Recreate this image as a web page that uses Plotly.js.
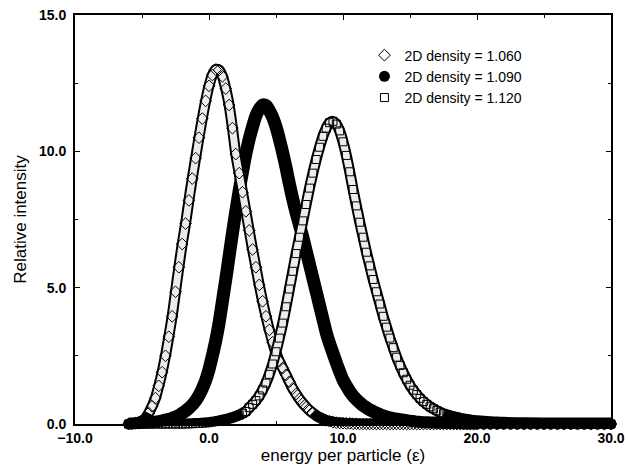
<!DOCTYPE html>
<html>
<head>
<meta charset="utf-8">
<script src="https://cdn.plot.ly/plotly-3.0.1.min.js"></script>
<style>html,body{margin:0;padding:0;background:#fff}#chart{width:628px;height:465px}</style>
</head>
<body>
<div id="chart"></div>
<script>
// energy per particle (x), one row per unit (x, x+.25, x+.5, x+.75)
const energy = [
  -6, -5.75, -5.5, -5.25,
  -5, -4.75, -4.5, -4.25,
  -4, -3.75, -3.5, -3.25,
  -3, -2.75, -2.5, -2.25,
  -2, -1.75, -1.5, -1.25,
  -1, -0.75, -0.5, -0.25,
  0, 0.25, 0.5, 0.75,
  1, 1.25, 1.5, 1.75,
  2, 2.25, 2.5, 2.75,
  3, 3.25, 3.5, 3.75,
  4, 4.25, 4.5, 4.75,
  5, 5.25, 5.5, 5.75,
  6, 6.25, 6.5, 6.75,
  7, 7.25, 7.5, 7.75,
  8, 8.25, 8.5, 8.75,
  9, 9.25, 9.5, 9.75,
  10, 10.25, 10.5, 10.75,
  11, 11.25, 11.5, 11.75,
  12, 12.25, 12.5, 12.75,
  13, 13.25, 13.5, 13.75,
  14, 14.25, 14.5, 14.75,
  15, 15.25, 15.5, 15.75,
  16, 16.25, 16.5, 16.75,
  17, 17.25, 17.5, 17.75,
  18, 18.25, 18.5, 18.75,
  19, 19.25, 19.5, 19.75,
  20,
  20.5, 21, 21.5, 22, 22.5, 23, 23.5, 24, 24.5, 25,
  25.5, 26, 26.5, 27, 27.5, 28, 28.5, 29, 29.5, 30
];

// 2D density = 1.060 (open diamonds)
const density1060 = [
  0, 0.01, 0.03, 0.06,
  0.12, 0.2, 0.4, 0.65,
  0.95, 1.4, 1.9, 2.5,
  3.2, 3.95, 4.85, 5.75,
  6.6, 7.35, 8.2, 9.0,
  9.75, 10.5, 11.2, 11.85,
  12.4, 12.8, 13.0, 12.98,
  12.75, 12.3, 11.7, 10.85,
  9.9, 9.2, 8.5, 7.8,
  7.1, 6.4, 5.75, 5.1,
  4.5, 3.95, 3.45, 3.0,
  2.6, 2.3, 2.05, 1.8,
  1.55, 1.3, 1.1, 0.92,
  0.76, 0.62, 0.5, 0.4,
  0.31, 0.24, 0.18, 0.13,
  0.1, 0.07, 0.05, 0.04,
  0.03, 0.02, 0.02, 0.01,
  0.01, 0, 0, 0,
  0, 0, 0, 0,
  0, 0, 0, 0,
  0, 0, 0, 0,
  0, 0, 0, 0,
  0, 0, 0, 0,
  0, 0, 0, 0,
  0, 0, 0, 0,
  0, 0, 0, 0,
  0,
  0, 0, 0, 0, 0, 0, 0, 0, 0, 0,
  0, 0, 0, 0, 0, 0, 0, 0, 0, 0
];

// 2D density = 1.090 (filled circles)
const density1090 = [
  0, 0, 0.01, 0.01,
  0.02, 0.03, 0.04, 0.05,
  0.07, 0.09, 0.11, 0.14,
  0.17, 0.21, 0.26, 0.31,
  0.4, 0.48, 0.58, 0.7,
  0.85, 1.05, 1.3, 1.6,
  2.0, 2.5, 3.05, 3.7,
  4.5, 5.3, 6.15, 7.0,
  7.8, 8.55, 9.25, 9.9,
  10.45, 10.9, 11.3, 11.55,
  11.7, 11.68, 11.5, 11.25,
  10.9, 10.45, 9.95, 9.4,
  8.8, 8.25, 7.75, 7.3,
  6.85, 6.35, 5.85, 5.35,
  4.85, 4.35, 3.85, 3.35,
  2.95, 2.6, 2.25, 1.92,
  1.62, 1.4, 1.2, 1.03,
  0.9, 0.78, 0.68, 0.6,
  0.52, 0.46, 0.4, 0.35,
  0.3, 0.26, 0.23, 0.2,
  0.18, 0.16, 0.14, 0.12,
  0.1, 0.09, 0.07, 0.06,
  0.05, 0.045, 0.04, 0.035,
  0.03, 0.025, 0.02, 0.02,
  0.015, 0.01, 0.01, 0.01,
  0, 0, 0, 0,
  0,
  0, 0, 0, 0, 0, 0, 0, 0, 0, 0,
  0, 0, 0, 0, 0, 0, 0, 0, 0, 0
];

// 2D density = 1.120 (open squares)
const density1120 = [
  0, 0, 0, 0,
  0, 0, 0, 0,
  0, 0, 0, 0,
  0, 0, 0, 0,
  0, 0, 0.01, 0.01,
  0.02, 0.02, 0.03, 0.04,
  0.05, 0.07, 0.09, 0.11,
  0.14, 0.17, 0.2, 0.24,
  0.28, 0.33, 0.39, 0.46,
  0.6, 0.72, 0.86, 1.03,
  1.25, 1.5, 1.82, 2.2,
  2.65, 3.15, 3.7, 4.3,
  4.95, 5.6, 6.25, 6.85,
  7.45, 8.05, 8.65, 9.2,
  9.7, 10.15, 10.55, 10.85,
  11.05, 11.1, 11.0, 10.75,
  10.35, 9.85, 9.25, 8.6,
  8.0, 7.4, 6.85, 6.3,
  5.8, 5.3, 4.85, 4.4,
  3.95, 3.55, 3.15, 2.8,
  2.45, 2.15, 1.88, 1.64,
  1.42, 1.24, 1.08, 0.94,
  0.82, 0.72, 0.63, 0.56,
  0.49, 0.43, 0.38, 0.34,
  0.3, 0.27, 0.24, 0.21,
  0.19, 0.17, 0.15, 0.13,
  0.12,
  0.1, 0.085, 0.07, 0.06, 0.05, 0.04, 0.035, 0.03, 0.025, 0.02,
  0.015, 0.01, 0.01, 0.01, 0, 0, 0, 0, 0, 0
];

const seriesNames = ['2D density = 1.060', '2D density = 1.090', '2D density = 1.120'];

// inner light stripe of the hollow-marker bands (only where the band leaves the baseline)
function inner(arr) { return arr.map(v => (v >= 0.35 ? v : null)); }

const base = {x: energy, hoverinfo: 'skip', showlegend: false, cliponaxis: false};

const traces = [
  // 1.090: solid black band
  Object.assign({}, base, {y: density1090, mode: 'lines', line: {color: 'black', width: 13, shape: 'spline', smoothing: 0.8}}),
  Object.assign({}, base, {y: density1090, mode: 'markers', name: seriesNames[1], showlegend: true, legendrank: 2,
    marker: {symbol: 'circle', size: 11, color: 'black'}}),
  // 1.060: outlined hatched band of open diamonds
  Object.assign({}, base, {y: density1060, mode: 'lines', line: {color: 'black', width: 11, shape: 'spline', smoothing: 0.8}}),
  Object.assign({}, base, {y: inner(density1060), mode: 'lines', connectgaps: false, line: {color: '#ececec', width: 7, shape: 'spline', smoothing: 0.8}}),
  Object.assign({}, base, {y: density1060, mode: 'markers', name: seriesNames[0], showlegend: true, legendrank: 1,
    marker: {symbol: 'diamond-open', size: 9, color: 'black', line: {width: 1}}}),
  // 1.120: outlined hatched band of open squares
  Object.assign({}, base, {y: density1120, mode: 'lines', line: {color: 'black', width: 11, shape: 'spline', smoothing: 0.8}}),
  Object.assign({}, base, {y: inner(density1120), mode: 'lines', connectgaps: false, line: {color: '#ececec', width: 7, shape: 'spline', smoothing: 0.8}}),
  Object.assign({}, base, {y: density1120, mode: 'markers', name: seriesNames[2], showlegend: true, legendrank: 3,
    marker: {symbol: 'square-open', size: 8, color: 'black', line: {width: 1}}})
];

const tickFont = {family: 'Liberation Sans, Arial, sans-serif', size: 14, color: 'black', weight: 'bold'};
const titleFont = {family: 'Liberation Sans, Arial, sans-serif', size: 17, color: 'black'};

const layout = {
  width: 628, height: 465,
  margin: {l: 75, r: 17, t: 15, b: 41},
  paper_bgcolor: 'white', plot_bgcolor: 'white',
  showlegend: true,
  legend: {x: 0.54, y: 0.94, xanchor: 'left', yanchor: 'top', bgcolor: 'rgba(0,0,0,0)',
    font: {family: 'Liberation Sans, Arial, sans-serif', size: 14, color: 'black'}, tracegroupgap: 0},
  xaxis: {
    range: [-10, 30], tick0: -10, dtick: 10, tickformat: '.1f',
    ticks: 'inside', ticklen: 5, tickwidth: 1, tickcolor: 'black',
    minor: {ticks: 'inside', ticklen: 3, dtick: 5, tickcolor: 'black'},
    showline: true, linewidth: 2, linecolor: 'black', mirror: 'ticks',
    showgrid: false, zeroline: false, tickfont: tickFont, ticklabelstandoff: 0,
    title: {text: 'energy per particle (ε)', font: titleFont, standoff: 4}
  },
  yaxis: {
    range: [0, 15], tick0: 0, dtick: 5, tickformat: '.1f',
    ticks: 'inside', ticklen: 5, tickwidth: 1, tickcolor: 'black',
    minor: {ticks: 'inside', ticklen: 3, dtick: 2.5, tickcolor: 'black'},
    showline: true, linewidth: 2, linecolor: 'black', mirror: 'ticks',
    showgrid: false, zeroline: false, tickfont: tickFont, ticklabelstandoff: 4,
    title: {text: 'Relative intensity', font: titleFont, standoff: 8}
  }
};

Plotly.newPlot('chart', traces, layout, {staticPlot: true, displayModeBar: false});
</script>
</body>
</html>
